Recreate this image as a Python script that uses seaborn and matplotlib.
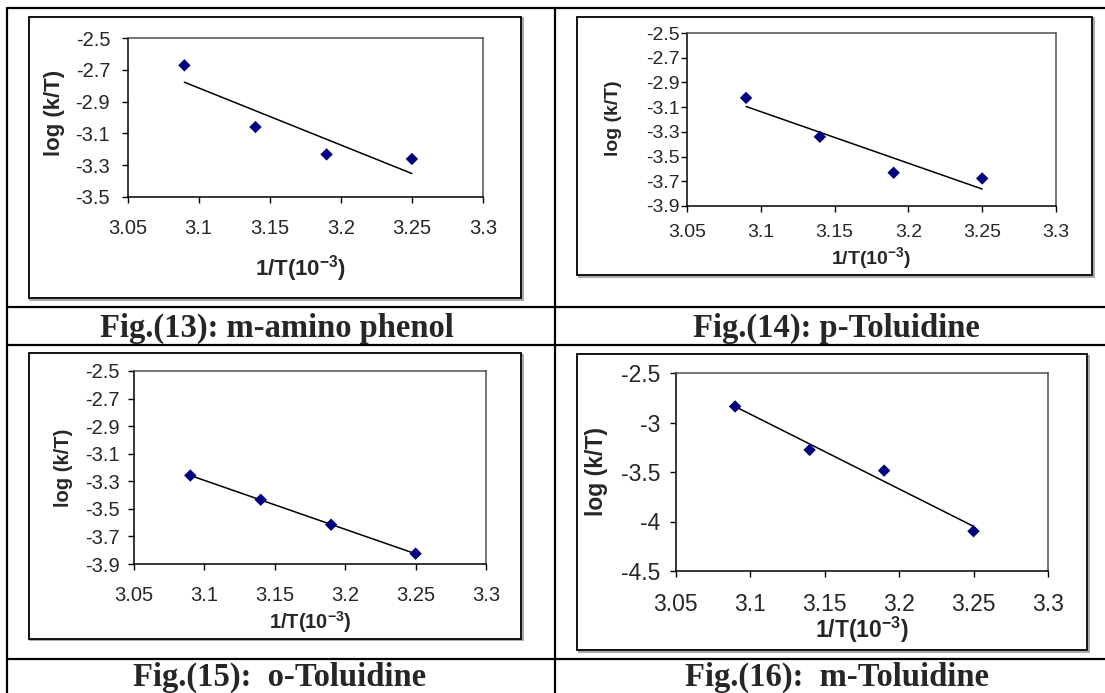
import matplotlib
matplotlib.use('Agg')
import matplotlib.pyplot as plt
from matplotlib.lines import Line2D
from matplotlib.patches import Rectangle
import seaborn as sns
import pandas as pd

# values (x = 1/T in 10^-3, y = log(k/T))
inv_T = [3.09, 3.14, 3.19, 3.25]
log_kT_m_amino_phenol = [-2.672, -3.060, -3.232, -3.261]
log_kT_p_toluidine = [-3.025, -3.340, -3.631, -3.677]
log_kT_o_toluidine = [-3.258, -3.434, -3.615, -3.825]
log_kT_m_toluidine = [-2.838, -3.277, -3.486, -4.098]

captions = ['Fig.(13): m-amino phenol', 'Fig.(14): p-Toluidine',
            'Fig.(15):  o-Toluidine', 'Fig.(16):  m-Toluidine']

x_ticks = [3.05, 3.1, 3.15, 3.2, 3.25, 3.3]
x_tick_labels = ['3.05', '3.1', '3.15', '3.2', '3.25', '3.3']
y_ticks_short = [-2.5, -2.7, -2.9, -3.1, -3.3, -3.5]
y_tick_labels_short = ['-2.5', '-2.7', '-2.9', '-3.1', '-3.3', '-3.5']
y_ticks_long = [-2.5, -2.7, -2.9, -3.1, -3.3, -3.5, -3.7, -3.9]
y_tick_labels_long = ['-2.5', '-2.7', '-2.9', '-3.1', '-3.3', '-3.5', '-3.7', '-3.9']
y_ticks_coarse = [-2.5, -3, -3.5, -4, -4.5]
y_tick_labels_coarse = ['-2.5', '-3', '-3.5', '-4', '-4.5']

x_label = '1/T(10$^{-3}$)'
y_label = 'log (k/T)'

sns.set_style('white')
plt.rcParams['font.family'] = ['Liberation Sans', 'DejaVu Sans']
plt.rcParams['axes.unicode_minus'] = False
plt.rcParams['mathtext.fontset'] = 'custom'
plt.rcParams['mathtext.rm'] = 'Liberation Sans:bold'
plt.rcParams['mathtext.default'] = 'rm'

W, H = 1105, 693


def box(x0, y0, x1, y1):
    # pixel box (top-left origin) -> figure fraction [left, bottom, width, height]
    return [x0 / W, 1 - y1 / H, (x1 - x0) / W, (y1 - y0) / H]


# layout of each panel, in pixels of the 1105x693 page
panels = [
    dict(y=log_kT_m_amino_phenol, yt=y_ticks_short, ytl=y_tick_labels_short, ylim=(-3.5, -2.5),
         plot=(127.5, 38, 483, 197), frame=(28.5, 17, 521, 298),
         tick_fs=14.5, label_fs=16, ypad=8, xpad=11,
         ylab=(-0.205, 0.528), xlab=(0.488, -0.447), cap=(277, 337)),
    dict(y=log_kT_p_toluidine, yt=y_ticks_long, ytl=y_tick_labels_long, ylim=(-3.9, -2.5),
         plot=(687, 33, 1056, 206), frame=(577, 17, 1092, 275),
         tick_fs=14, label_fs=14, ypad=1, xpad=8.5,
         ylab=(-0.20, 0.509), xlab=(0.5, -0.30), cap=(836, 337)),
    dict(y=log_kT_o_toluidine, yt=y_ticks_long, ytl=y_tick_labels_long, ylim=(-3.9, -2.5),
         plot=(134, 371, 486, 564), frame=(28.5, 353, 521, 638.5),
         tick_fs=14.5, label_fs=14.5, ypad=6, xpad=11,
         ylab=(-0.199, 0.497), xlab=(0.5, -0.30), cap=(280, 686)),
    dict(y=log_kT_m_toluidine, yt=y_ticks_coarse, ytl=y_tick_labels_coarse, ylim=(-4.5, -2.5),
         plot=(675.5, 373, 1048, 571), frame=(577, 354, 1087, 650),
         tick_fs=16.5, label_fs=16.5, ypad=6.5, xpad=11,
         ylab=(-0.211, 0.5), xlab=(0.5, -0.298), cap=(837, 686)),
]

fig = plt.figure(figsize=(W / 100, H / 100), dpi=100)

# table grid
lw_table = 1.6
for y in [8, 307, 345, 659]:
    fig.add_artist(Line2D([7 / W, 1], [1 - y / H, 1 - y / H], color='black', lw=lw_table))
for x in [7, 555]:
    fig.add_artist(Line2D([x / W, x / W], [1 - 8 / H, 0], color='black', lw=lw_table))

for p, cap in zip(panels, captions):
    # chart frame with a little grey shadow, kept behind the axes
    fx0, fy0, fx1, fy1 = p['frame']
    l, b, w, h = box(fx0 + 1.5, fy0 + 1.5, fx1 + 1.5, fy1 + 1.5)
    fig.add_artist(Rectangle((l, b), w, h, transform=fig.transFigure,
                             fill=False, edgecolor='#9a9a9a', lw=1.2, zorder=-6))
    l, b, w, h = box(fx0, fy0, fx1, fy1)
    fig.add_artist(Rectangle((l, b), w, h, transform=fig.transFigure,
                             facecolor='white', edgecolor='black', lw=1.3, zorder=-5))

    ax = fig.add_axes(box(*p['plot']))
    ax.patch.set_alpha(0)
    df = pd.DataFrame({'inv_T': inv_T, 'log_kT': p['y']})
    sns.regplot(data=df, x='inv_T', y='log_kT', ax=ax, ci=None, marker='D',
                scatter_kws=dict(s=40, color='#000080', alpha=1, edgecolors='none', zorder=3),
                line_kws=dict(color='black', lw=1.1))

    ax.set_xlim(3.05, 3.3)
    ax.set_ylim(*p['ylim'])
    ax.set_xticks(x_ticks)
    ax.set_xticklabels(x_tick_labels, fontsize=p['tick_fs'])
    ax.set_yticks(p['yt'])
    ax.set_yticklabels(p['ytl'], fontsize=p['tick_fs'])
    ax.tick_params(axis='x', direction='out', length=4.5, width=1, color='black',
                   pad=p['xpad'], bottom=True)
    ax.tick_params(axis='y', direction='out', length=4.5, width=1, color='black',
                   pad=p['ypad'], left=True)

    for side in ['left', 'bottom']:
        ax.spines[side].set_color('black')
        ax.spines[side].set_linewidth(1.1)
    for side in ['top', 'right']:
        ax.spines[side].set_color('#505050')
        ax.spines[side].set_linewidth(1.1)

    ax.set_ylabel(y_label, fontsize=p['label_fs'], fontweight='bold', va='center')
    ax.yaxis.set_label_coords(*p['ylab'])
    ax.set_xlabel(x_label, fontsize=p['label_fs'], fontweight='bold', va='center')
    ax.xaxis.set_label_coords(*p['xlab'])

    fig.text(p['cap'][0] / W, 1 - p['cap'][1] / H, cap, ha='center', va='baseline',
             fontsize=23.5, fontweight='bold', family=['Liberation Serif', 'DejaVu Serif'])

fig.savefig('out.png', dpi=100, facecolor='white')
